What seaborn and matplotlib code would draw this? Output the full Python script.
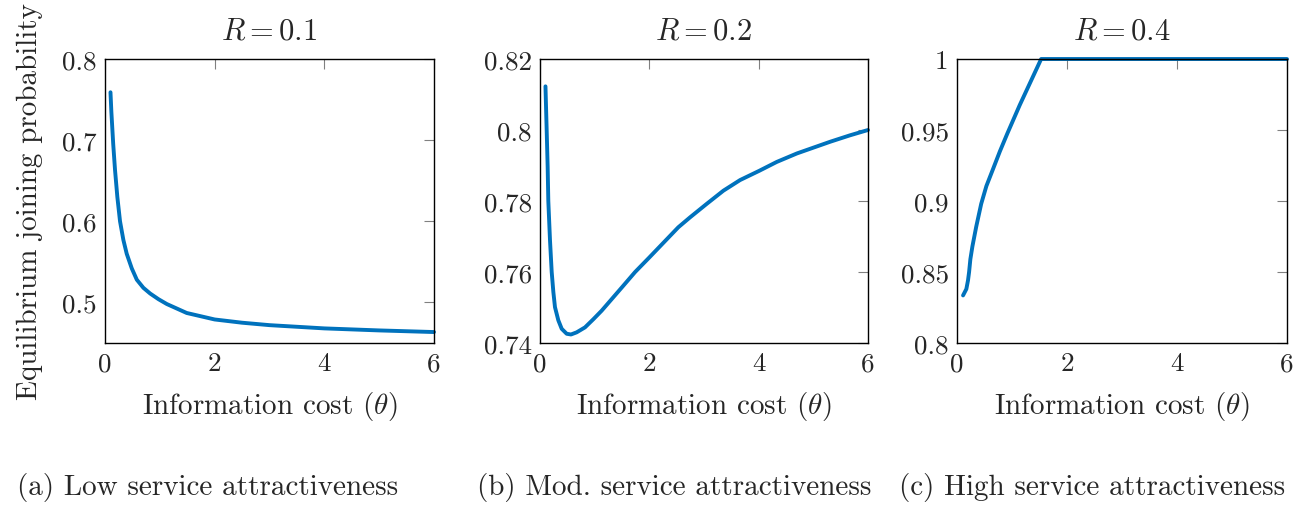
import numpy as np
import pandas as pd
import matplotlib
matplotlib.use('Agg')
import matplotlib.pyplot as plt
from matplotlib.ticker import FuncFormatter
import seaborn as sns

# values
theta_low = [0.1, 0.116, 0.15, 0.183, 0.225, 0.274, 0.335, 0.396, 0.488, 0.58, 0.70, 0.823, 0.975,
             1.128, 1.49, 2.0, 2.5, 3.0, 4.0, 5.0, 6.0]
p_low = [0.759, 0.735, 0.695, 0.663, 0.630, 0.600, 0.577, 0.560, 0.542, 0.528, 0.518, 0.511, 0.504,
         0.498, 0.487, 0.479, 0.475, 0.472, 0.468, 0.4655, 0.4635]

theta_mod = [0.1, 0.122, 0.14, 0.152, 0.183, 0.214, 0.244, 0.274, 0.335, 0.397, 0.488, 0.567, 0.67,
             0.823, 0.976, 1.128, 1.494, 1.74, 2.0, 2.53, 2.745, 3.05, 3.354, 3.66, 4.01, 4.33, 4.70,
             5.31, 5.67, 6.0]
p_mod = [0.8123, 0.800, 0.7896, 0.780, 0.7689, 0.760, 0.7544, 0.7501, 0.7464, 0.744, 0.7426, 0.7424,
         0.7430, 0.7444, 0.7467, 0.7491, 0.7556, 0.760, 0.7641, 0.7726, 0.7754, 0.7792, 0.7829, 0.7859,
         0.7885, 0.791, 0.7934, 0.7967, 0.7985, 0.800]

theta_high = [0.11, 0.17, 0.2, 0.22, 0.243, 0.28, 0.35, 0.44, 0.534, 0.655, 0.78, 0.915, 1.14, 1.35,
              1.53, 2.0, 3.0, 4.0, 5.0, 6.0]
p_high = [0.8335, 0.838, 0.8441, 0.850, 0.859, 0.868, 0.882, 0.898, 0.9105, 0.9225, 0.935, 0.9475,
          0.9675, 0.985, 1.0, 1.0, 1.0, 1.0, 1.0, 1.0]

R_values = [0.1, 0.2, 0.4]
captions = ['(a) Low service attractiveness', '(b) Mod. service attractiveness',
            '(c) High service attractiveness']
x_ticks = [0, 2, 4, 6]
y_ticks = [[0.5, 0.6, 0.7, 0.8], [0.74, 0.76, 0.78, 0.8, 0.82], [0.8, 0.85, 0.9, 0.95, 1.0]]
y_lims = [(0.45, 0.8), (0.74, 0.82), (0.8, 1.0)]

sns.set_style('white')
plt.rcParams['font.family'] = ['cmr10']
plt.rcParams['mathtext.fontset'] = 'cm'
plt.rcParams['axes.formatter.use_mathtext'] = True
plt.rcParams['font.size'] = 21

fig = plt.figure(figsize=(13.15, 5.06), dpi=100)
boxes = [(105, 434), (540, 868), (957, 1287)]
top_px, bot_px = 60, 344
W, H = 1315, 506

series = [(theta_low, p_low), (theta_mod, p_mod), (theta_high, p_high)]
caption_x = [208, 674, 1092]

for i, ((l, r), (xs, ys)) in enumerate(zip(boxes, series)):
    ax = fig.add_axes([l / W, (H - bot_px) / H, (r - l) / W, (bot_px - top_px) / H])
    df = pd.DataFrame({'theta': xs, 'p': ys})
    sns.lineplot(data=df, x='theta', y='p', ax=ax, color='#0072BD', linewidth=2.8, clip_on=False)
    ax.set_xlim(0, 6)
    ax.set_ylim(*y_lims[i])
    ax.set_xticks(x_ticks)
    ax.set_yticks(y_ticks[i])
    ax.xaxis.set_major_formatter(FuncFormatter(lambda v, p: f'{v:g}'))
    ax.yaxis.set_major_formatter(FuncFormatter(lambda v, p: f'{v:g}'))
    ax.tick_params(direction='in', length=7.5, width=0.8, color='#808080',
                   top=True, right=True, labelsize=19.5, pad=6)
    for s in ax.spines.values():
        s.set_color('black')
        s.set_linewidth(1.0)
    ax.set_title(rf'$R = {R_values[i]:g}$', pad=15, fontsize=22)
    ax.set_xlabel(r'Information cost ($\theta$)', fontsize=21, labelpad=10)
    if i == 0:
        ax.set_ylabel('Equilibrium joining probability', fontsize=21, labelpad=14)
    else:
        ax.set_ylabel('')
    fig.text(caption_x[i] / W, (H - 488) / H, captions[i], ha='center', va='center', fontsize=21)

fig.savefig('out.png', dpi=100)
